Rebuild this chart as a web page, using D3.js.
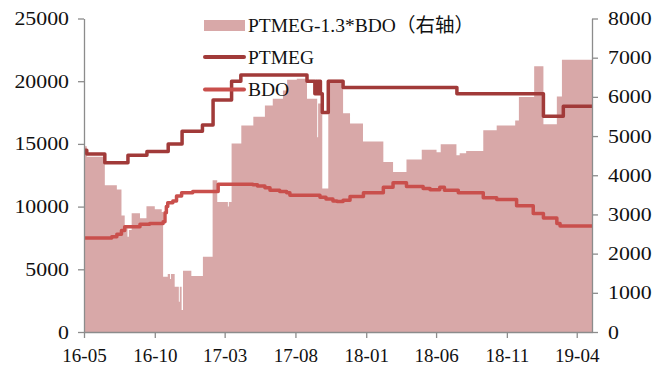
<!DOCTYPE html>
<html>
<head>
<meta charset="utf-8">
<script src="https://cdn.jsdelivr.net/npm/d3@7/dist/d3.min.js"></script>
<style>
  body { margin: 0; background: #fff; }
  text { font-family: "Liberation Serif", "Times New Roman", "Noto Sans CJK SC", serif; fill: #111; }
</style>
</head>
<body>
<div id="chart"></div>
<script>
// values, as [date, value] change points (step series)
const dateStart = '2016-05-01';
const dateEnd = '2019-05-04';
const xTickLabels = ['16-05', '16-10', '17-03', '17-08', '18-01', '18-06', '18-11', '19-04'];
const leftTicks = [0, 5000, 10000, 15000, 20000, 25000];
const rightTicks = [0, 1000, 2000, 3000, 4000, 5000, 6000, 7000, 8000];
const legendNames = ['PTMEG-1.3*BDO（右轴）', 'PTMEG', 'BDO'];

const ptmeg = [
  ['2016-05-01', 14500], ['2016-05-07', 14200], ['2016-06-15', 13500], ['2016-08-04', 14100],
  ['2016-09-14', 14400], ['2016-10-30', 15000], ['2016-11-29', 16000], ['2017-01-12', 16500],
  ['2017-02-04', 18500], ['2017-03-16', 20000], ['2017-04-05', 20500], ['2017-08-26', 20000],
  ['2017-09-12', 19000], ['2017-09-14', 20000], ['2017-09-16', 19000], ['2017-09-18', 20000],
  ['2017-09-20', 19000], ['2017-09-22', 20000], ['2017-09-24', 19000], ['2017-09-28', 17500],
  ['2017-10-11', 20000], ['2017-11-12', 19500], ['2018-07-16', 19000], ['2019-01-19', 17200],
  ['2019-03-03', 18000],
];

const bdo = [
  ['2016-05-01', 7500], ['2016-06-30', 7600], ['2016-07-11', 7800], ['2016-07-21', 8100],
  ['2016-07-28', 8400], ['2016-08-30', 8600], ['2016-09-20', 8650], ['2016-10-19', 8800],
  ['2016-10-23', 9500], ['2016-10-26', 10000], ['2016-10-29', 10300], ['2016-11-09', 10450],
  ['2016-11-17', 10850], ['2016-11-28', 11100], ['2016-12-22', 11200], ['2017-02-15', 11780],
  ['2017-05-01', 11750], ['2017-05-11', 11650], ['2017-05-27', 11500], ['2017-06-07', 11300],
  ['2017-06-28', 11200], ['2017-07-13', 11100], ['2017-07-20', 10900], ['2017-09-23', 10750],
  ['2017-10-06', 10600], ['2017-10-21', 10450], ['2017-10-30', 10400], ['2017-11-12', 10500],
  ['2017-11-27', 10800], ['2017-12-26', 11100], ['2018-02-07', 11550], ['2018-02-28', 11900],
  ['2018-03-29', 11600], ['2018-05-04', 11450], ['2018-05-19', 11350], ['2018-06-09', 11550],
  ['2018-06-19', 11300], ['2018-07-19', 11100], ['2018-09-11', 10700], ['2018-10-10', 10570],
  ['2018-11-22', 10060], ['2018-12-28', 9450], ['2019-01-19', 9100], ['2019-02-17', 8650],
  ['2019-02-24', 8450],
];

// PTMEG-1.3*BDO, right axis
const spread = [
  ['2016-05-01', 4740], ['2016-05-07', 4470], ['2016-06-15', 3745], ['2016-07-11', 3635],
  ['2016-07-21', 2970], ['2016-07-28', 2650], ['2016-08-03', 2430], ['2016-08-06', 2600],
  ['2016-08-12', 3030], ['2016-08-30', 2900], ['2016-09-13', 3210], ['2016-10-01', 3130],
  ['2016-10-16', 3065], ['2016-10-19', 1410], ['2016-10-29', 1480], ['2016-11-03', 1350],
  ['2016-11-05', 1480], ['2016-11-13', 1155], ['2016-11-22', 770], ['2016-11-24', 1155],
  ['2016-11-28', 560], ['2016-12-01', 1560], ['2016-12-19', 1430], ['2017-01-13', 1920],
  ['2017-02-03', 3870], ['2017-02-13', 3320], ['2017-03-08', 3200], ['2017-03-10', 3320],
  ['2017-03-16', 4810], ['2017-04-06', 5270],
  ['2017-05-02', 5490], ['2017-05-27', 5780], ['2017-06-13', 5950], ['2017-07-05', 6165],
  ['2017-07-14', 6440], ['2017-08-04', 6460], ['2017-08-26', 5950], ['2017-09-17', 4970],
  ['2017-09-19', 5830], ['2017-09-28', 3660], ['2017-10-11', 6440], ['2017-11-12', 5580],
  ['2017-11-27', 5320], ['2017-12-25', 4860], ['2018-02-07', 4340], ['2018-02-28', 4080],
  ['2018-03-29', 4400], ['2018-05-01', 4650], ['2018-06-02', 4590], ['2018-06-11', 4790],
  ['2018-07-15', 4510], ['2018-07-22', 4560], ['2018-08-05', 4620], ['2018-09-11', 5150],
  ['2018-10-10', 5270], ['2018-11-19', 5400], ['2018-11-27', 6000], ['2018-12-30', 6780],
  ['2019-01-19', 5300], ['2019-02-17', 6010], ['2019-02-28', 6950],
];

const COLORS = {spread: '#d8a8a8', ptmeg: '#a13a39', bdo: '#c94f4c', axis: '#8c8c8c'};

const c = {svgW: 666, svgH: 369, pad: {l: 84, r: 74, t: 18.5, b: 37}};
const w = c.svgW - c.pad.l - c.pad.r;
const h = c.svgH - c.pad.t - c.pad.b;

const parseDate = d3.utcParse('%Y-%m-%d');
const parseTick = d3.utcParse('%y-%m');

// extend a step series to the end of the axis
const toSeries = (rows) => {
  const pts = rows.map(([d, v]) => ({date: parseDate(d), value: v}));
  pts.push({date: parseDate(dateEnd), value: pts[pts.length - 1].value});
  return pts;
};

const x = d3.scaleUtc()
  .domain([parseDate(dateStart), parseDate(dateEnd)])
  .range([0, w]);
const yLeft = d3.scaleLinear().domain([0, 25000]).range([h, 0]);
const yRight = d3.scaleLinear().domain([0, 8000]).range([h, 0]);

const svg = d3.select('#chart')
  .append('svg')
  .attr('width', c.svgW)
  .attr('height', c.svgH);
const chart = svg.append('g')
  .attr('transform', `translate(${c.pad.l}, ${c.pad.t})`);

chart.append('path')
  .datum(toSeries(spread))
  .attr('fill', COLORS.spread)
  .attr('d', d3.area()
    .curve(d3.curveStepAfter)
    .x(d => x(d.date))
    .y0(h)
    .y1(d => yRight(d.value)));

const line = d3.line()
  .curve(d3.curveStepAfter)
  .x(d => x(d.date))
  .y(d => yLeft(d.value));

chart.append('path')
  .datum(toSeries(ptmeg))
  .attr('fill', 'none')
  .attr('stroke', COLORS.ptmeg)
  .attr('stroke-width', 3.5)
  .attr('stroke-linejoin', 'round')
  .attr('d', line);

chart.append('path')
  .datum(toSeries(bdo))
  .attr('fill', 'none')
  .attr('stroke', COLORS.bdo)
  .attr('stroke-width', 3.5)
  .attr('stroke-linejoin', 'round')
  .attr('d', line);

// axes
const styleAxis = (g) => {
  g.attr('font-family', null);
  g.select('.domain').attr('stroke', COLORS.axis).attr('stroke-width', 1.3);
  g.selectAll('.tick line').attr('stroke', COLORS.axis).attr('stroke-width', 1.3);
  g.selectAll('.tick text').attr('font-size', 19).attr('fill', '#111');
};

const yStretch = 1.15; // the reference's y labels are drawn a bit wide

chart.append('g')
  .call(d3.axisLeft(yLeft).tickValues(leftTicks).tickSize(6).tickSizeOuter(0).tickPadding(9).tickFormat(d3.format('d')))
  .call(styleAxis)
  .call(g => g.selectAll('.tick text')
    .attr('x', null)
    .attr('transform', `translate(-15, 0) scale(${yStretch}, 1)`));

chart.append('g')
  .attr('transform', `translate(${w}, 0)`)
  .call(d3.axisRight(yRight).tickValues(rightTicks).tickSize(6).tickSizeOuter(0).tickPadding(9).tickFormat(d3.format('d')))
  .call(styleAxis)
  .call(g => g.selectAll('.tick text')
    .attr('x', null)
    .attr('transform', `translate(16, 0) scale(${yStretch}, 1)`));

chart.append('g')
  .attr('transform', `translate(0, ${h})`)
  .call(d3.axisBottom(x)
    .tickValues(xTickLabels.map(parseTick))
    .tickFormat(d3.utcFormat('%y-%m'))
    .tickSize(6).tickSizeOuter(0).tickPadding(11))
  .call(styleAxis);

// legend
const legend = svg.append('g').attr('transform', 'translate(204, 0)');
const rowY = [25.5, 57, 89.5];

legend.append('rect')
  .attr('x', 0).attr('y', rowY[0] - 5.5)
  .attr('width', 41).attr('height', 11)
  .attr('fill', COLORS.spread);
[COLORS.ptmeg, COLORS.bdo].forEach((col, i) => {
  legend.append('line')
    .attr('x1', 1).attr('x2', 40)
    .attr('y1', rowY[i + 1]).attr('y2', rowY[i + 1])
    .attr('stroke', col)
    .attr('stroke-width', 4)
    .attr('stroke-linecap', 'round');
});
legend.selectAll('text.lg')
  .data(legendNames)
  .join('text')
  .classed('lg', true)
  .attr('x', 44)
  .attr('y', (d, i) => rowY[i] + 6.5)
  .attr('font-size', 19.5)
  .text(d => d);
</script>
</body>
</html>
